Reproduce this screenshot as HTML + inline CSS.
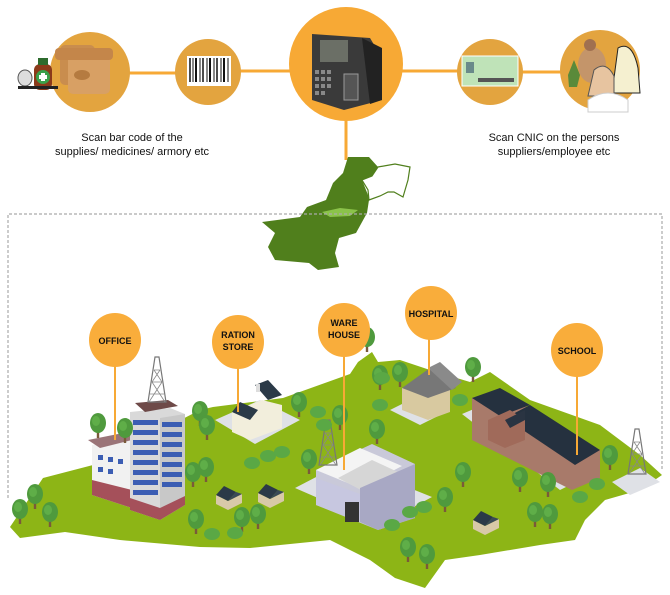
<!DOCTYPE html>
<html><head><meta charset="utf-8"><style>
html,body{margin:0;padding:0;background:#fff;width:670px;height:595px;overflow:hidden}
svg{display:block}
text{font-family:"Liberation Sans",sans-serif}
</style></head><body>
<svg width="670" height="595" viewBox="0 0 670 595" xmlns="http://www.w3.org/2000/svg">
<defs>
<g id="tree"><rect x="-1.2" y="0" width="2.4" height="12" fill="#7a5a3a"/><ellipse cx="0" cy="-3" rx="8" ry="10" fill="#4f9a3d"/><ellipse cx="-2" cy="-5" rx="4" ry="5" fill="#5fae48"/></g>
<g id="bush"><ellipse cx="0" cy="0" rx="8" ry="6" fill="#5aa845"/></g>
<g id="house"><polygon points="-12,4 0,10 14,3 14,-6 0,1 -12,-5" fill="#d8c9a8"/><polygon points="-12,-5 -4,-14 8,-8 0,1" fill="#2b3a48"/><polygon points="0,1 8,-8 14,-6" fill="#3a4a58"/></g>
<g id="tower"><polygon points="-2,-45 2,-45 9,0 -9,0" fill="none" stroke="#777" stroke-width="1.2"/><path d="M-7,-8 L7,-8 M-5,-20 L5,-20 M-3,-32 L3,-32 M-8,0 L5,-20 M8,0 L-5,-20 M-5,-20 L3,-32 M5,-20 L-3,-32" stroke="#888" stroke-width="0.8"/></g>
</defs>

<g stroke="#f7a935" stroke-width="3">
<line x1="128" y1="73" x2="176" y2="73"/><line x1="240" y1="71" x2="292" y2="71"/>
<line x1="400" y1="71" x2="458" y2="71"/><line x1="522" y1="72" x2="562" y2="72"/>
<line x1="346" y1="118" x2="346" y2="160"/>
</g>
<circle cx="90" cy="72" r="40" fill="#e3a43f"/>
<circle cx="208" cy="72" r="33" fill="#e3a43f"/>
<circle cx="346" cy="64" r="57" fill="#f7a935"/>
<circle cx="490" cy="72" r="33" fill="#e3a43f"/>
<circle cx="600" cy="70" r="40" fill="#e3a43f"/>
<rect x="60" y="45" width="35" height="40" rx="5" fill="#c98d4e"/>
<rect x="68" y="52" width="42" height="42" rx="5" fill="#d8a064"/>
<rect x="55" y="48" width="58" height="12" rx="4" fill="#c4864a"/>
<ellipse cx="82" cy="75" rx="8" ry="5" fill="#b57b40"/>
<rect x="34" y="64" width="18" height="26" rx="6" fill="#8b3a1a"/>
<circle cx="43" cy="77" r="7" fill="#3aa04a"/><rect x="41" y="73" width="4" height="8" fill="#fff"/><rect x="39" y="75" width="8" height="4" fill="#fff"/>
<rect x="38" y="58" width="10" height="7" fill="#2d6b2d"/>
<ellipse cx="25" cy="78" rx="7" ry="8" fill="#ddd" stroke="#555"/>
<rect x="18" y="86" width="40" height="3" fill="#222"/>
<rect x="187" y="56" width="44" height="30" fill="#fff"/>
<g stroke="#111">
<line x1="190" y1="58" x2="190" y2="82" stroke-width="1.5"/><line x1="193" y1="58" x2="193" y2="82"/><line x1="196" y1="58" x2="196" y2="82" stroke-width="2"/><line x1="200" y1="58" x2="200" y2="82"/><line x1="203" y1="58" x2="203" y2="82" stroke-width="1.5"/><line x1="207" y1="58" x2="207" y2="82"/><line x1="210" y1="58" x2="210" y2="82" stroke-width="2"/><line x1="214" y1="58" x2="214" y2="82"/><line x1="217" y1="58" x2="217" y2="82" stroke-width="1.5"/><line x1="221" y1="58" x2="221" y2="82"/><line x1="224" y1="58" x2="224" y2="82" stroke-width="2"/><line x1="228" y1="58" x2="228" y2="82"/>
</g>
<polygon points="312,34 370,38 382,58 382,100 344,110 312,100" fill="#3a3a3a"/>
<polygon points="362,38 382,48 382,100 370,104" fill="#222"/>
<rect x="320" y="40" width="28" height="22" fill="#6b6f66"/>
<g fill="#888"><rect x="315" y="70" width="4" height="4"/><rect x="321" y="70" width="4" height="4"/><rect x="327" y="70" width="4" height="4"/><rect x="315" y="77" width="4" height="4"/><rect x="321" y="77" width="4" height="4"/><rect x="327" y="77" width="4" height="4"/><rect x="315" y="84" width="4" height="4"/><rect x="321" y="84" width="4" height="4"/><rect x="327" y="84" width="4" height="4"/><rect x="315" y="91" width="4" height="4"/><rect x="321" y="91" width="4" height="4"/></g>
<rect x="344" y="74" width="14" height="26" fill="#555" stroke="#999"/>
<rect x="462" y="56" width="56" height="30" fill="#bfe3b8" stroke="#fff"/>
<rect x="466" y="62" width="8" height="11" fill="#6a8a8a"/><rect x="478" y="78" width="36" height="4" fill="#555"/>
<ellipse cx="592" cy="65" rx="14" ry="18" fill="#c4956a"/>
<circle cx="590" cy="45" r="6" fill="#a07050"/>
<path d="M618,48 q14,-8 20,20 l2,25 h-28 z" fill="#f5f0d0" stroke="#222"/>
<path d="M594,70 q12,-10 20,6 v20 h-26 z" fill="#e7c4a0" stroke="#555"/>
<path d="M588,100 q20,-14 40,0 v12 h-40 z" fill="#fff" stroke="#ccc"/>
<path d="M568,75 l6,-15 l6,15 l-3,12 h-8z" fill="#5a8a3a"/>

<text x="132" y="141" font-size="11" text-anchor="middle" fill="#111">Scan bar code of the</text>
<text x="132" y="155" font-size="11" text-anchor="middle" fill="#111">supplies/ medicines/ armory etc</text>
<text x="554" y="141" font-size="11" text-anchor="middle" fill="#111">Scan CNIC on the persons</text>
<text x="554" y="155" font-size="11" text-anchor="middle" fill="#111">suppliers/employee etc</text>

<!-- Pakistan map -->
<path d="M348,157 L369,157 L378,167 L372,176 L362,180 L368,195 L369,200 L367,213 L356,233 L339,238 L335,253 L339,267 L318,270 L309,263 L275,260 L268,247 L275,233 L262,222 L300,217 L307,207 L326,200 L333,183 L343,173 Z" fill="#507f1c"/>
<path d="M378,167 L395,164 L410,167 L408,180 L403,197 L394,192 L388,192 L380,196 L369,200 L368,190 L362,180 L372,176 Z" fill="#fff" stroke="#507f1c" stroke-width="1.2"/>
<path d="M322,212 L340,208 L358,210 L350,216 L330,217 Z" fill="#8bc34a"/>

<path d="M8,498 L8,214 L662,214 L662,470" fill="none" stroke="#aaa" stroke-width="1.2" stroke-dasharray="3,2"/>

<path d="M10,527 L43,478 L93,465 L200,410 L213,407 L283,398 L350,374 L358,362 L372,352 L378,362 L400,360 L430,370 L470,382 L490,372 L530,400 L600,425 L640,455 L662,475 L640,490 L605,500 L585,520 L575,540 L540,545 L480,555 L445,560 L425,588 L395,578 L370,560 L330,540 L250,548 L200,547 L120,540 L65,532 L20,538 Z" fill="#8db516"/>

<polygon points="215,420 260,400 300,420 255,444" fill="#dfe1e6"/>
<polygon points="295,488 345,462 432,497 380,525" fill="#dfe1e6"/>
<polygon points="390,410 420,395 450,410 420,425" fill="#dfe1e6"/>
<polygon points="462,414 500,398 600,470 560,490" fill="#dfe1e6"/>
<polygon points="612,482 640,468 660,482 630,495" fill="#dfe1e6"/>

<polygon points="92,445 132,436 132,508 92,495" fill="#f1f1f1"/>
<polygon points="92,480 132,490 132,508 92,495" fill="#a5505a"/>
<polygon points="88,440 128,432 140,438 100,448" fill="#9a7478"/>
<polygon points="130,412 170,408 185,414 185,505 160,520 130,510" fill="#d9d9d9"/>
<polygon points="160,418 185,414 185,505 160,518" fill="#c8c8c8"/>
<g fill="#3b5db3"><rect x="133" y="420" width="25" height="5"/><rect x="133" y="430" width="25" height="5"/><rect x="133" y="440" width="25" height="5"/><rect x="133" y="450" width="25" height="5"/><rect x="133" y="460" width="25" height="5"/><rect x="133" y="470" width="25" height="5"/><rect x="133" y="480" width="25" height="5"/><rect x="133" y="490" width="25" height="5"/>
<rect x="162" y="422" width="20" height="5"/><rect x="162" y="432" width="20" height="5"/><rect x="162" y="442" width="20" height="5"/><rect x="162" y="452" width="20" height="5"/><rect x="162" y="462" width="20" height="5"/><rect x="162" y="472" width="20" height="5"/><rect x="162" y="482" width="20" height="5"/>
<rect x="98" y="455" width="5" height="5"/><rect x="108" y="457" width="5" height="5"/><rect x="118" y="459" width="5" height="5"/><rect x="98" y="467" width="5" height="5"/><rect x="108" y="469" width="5" height="5"/></g>
<polygon points="130,498 160,508 185,496 185,505 160,520 130,510" fill="#a5505a"/>
<polygon points="135,403 168,400 178,406 145,412" fill="#6e4a48"/>
<use href="#tower" x="157" y="402"/>

<polygon points="232,412 250,405 262,400 282,405 282,428 250,440 232,432" fill="#f2eedc"/>
<polygon points="232,412 240,402 258,410 250,420" fill="#2b3a48"/>
<polygon points="255,385 268,380 282,395 268,400" fill="#2b3a48"/>
<rect x="256" y="384" width="4" height="8" fill="#ddd"/>

<polygon points="316,470 372,444 415,464 415,518 378,530 316,505" fill="#c9c9d9"/>
<polygon points="316,470 360,448 402,466 360,488" fill="#f4f4f4"/>
<polygon points="338,478 372,460 415,480 380,500" fill="#d6d6d6"/>
<polygon points="360,488 415,464 415,518 378,530 360,522" fill="#a8a8c4"/>
<polygon points="316,478 360,494 360,522 316,505" fill="#c7c7e0"/>
<rect x="345" y="502" width="14" height="20" fill="#333"/>
<use href="#tower" x="328" y="465"/>

<polygon points="402,388 428,378 450,388 450,412 428,420 402,410" fill="#d8c9a0"/>
<polygon points="402,388 430,368 456,388 428,398" fill="#777"/>
<polygon points="428,368 440,362 462,382 452,390" fill="#8a8a8a"/>

<polygon points="472,398 498,390 600,450 600,478 572,490 472,440" fill="#a87a6a"/>
<polygon points="472,398 500,388 530,405 500,416" fill="#25313f"/>
<polygon points="505,418 530,405 600,450 575,465" fill="#25313f"/>
<polygon points="488,420 510,410 525,420 525,440 505,448 488,440" fill="#a06a5a"/>
<polygon points="505,420 525,410 525,420 510,428" fill="#2a3442"/>
<use href="#tower" x="637" y="474"/>

<use href="#house" x="228" y="500"/>
<use href="#house" x="270" y="498"/>
<use href="#house" x="485" y="525"/>

<g>
<use href="#tree" x="20" y="512"/><use href="#tree" x="35" y="497"/><use href="#tree" x="50" y="515"/>
<use href="#tree" x="98" y="426"/><use href="#tree" x="125" y="431"/>
<use href="#tree" x="193" y="475"/><use href="#tree" x="206" y="470"/>
<use href="#tree" x="200" y="414"/><use href="#tree" x="207" y="428"/>
<use href="#tree" x="299" y="405"/><use href="#tree" x="380" y="378"/><use href="#tree" x="400" y="375"/>
<use href="#tree" x="367" y="340"/><use href="#tree" x="377" y="432"/><use href="#tree" x="309" y="462"/>
<use href="#tree" x="196" y="522"/><use href="#tree" x="242" y="520"/><use href="#tree" x="258" y="517"/>
<use href="#tree" x="445" y="500"/><use href="#tree" x="463" y="475"/><use href="#tree" x="520" y="480"/>
<use href="#tree" x="535" y="515"/><use href="#tree" x="548" y="485"/><use href="#tree" x="550" y="517"/>
<use href="#tree" x="408" y="550"/><use href="#tree" x="427" y="557"/><use href="#tree" x="473" y="370"/>
<use href="#tree" x="610" y="458"/><use href="#tree" x="340" y="418"/>
<use href="#bush" x="252" y="463"/><use href="#bush" x="268" y="456"/><use href="#bush" x="282" y="452"/>
<use href="#bush" x="318" y="412"/><use href="#bush" x="324" y="425"/><use href="#bush" x="380" y="405"/>
<use href="#bush" x="392" y="525"/><use href="#bush" x="410" y="512"/><use href="#bush" x="424" y="507"/>
<use href="#bush" x="212" y="534"/><use href="#bush" x="235" y="533"/><use href="#bush" x="580" y="497"/><use href="#bush" x="597" y="484"/>
<use href="#bush" x="382" y="378"/><use href="#bush" x="460" y="400"/>
</g>

<g stroke="#f7a935" stroke-width="2">
<line x1="115" y1="365" x2="115" y2="440"/><line x1="238" y1="368" x2="238" y2="412"/>
<line x1="344" y1="356" x2="344" y2="470"/><line x1="429" y1="338" x2="429" y2="375"/>
<line x1="577" y1="375" x2="577" y2="455"/>
</g>
<g fill="#f9ad3b">
<ellipse cx="115" cy="340" rx="26" ry="27"/><ellipse cx="238" cy="342" rx="26" ry="27"/>
<ellipse cx="344" cy="330" rx="26" ry="27"/><ellipse cx="431" cy="313" rx="26" ry="27"/>
<ellipse cx="577" cy="350" rx="26" ry="27"/>
</g>
<g font-size="9" font-weight="bold" text-anchor="middle" fill="#111">
<text x="115" y="344">OFFICE</text>
<text x="238" y="338">RATION</text><text x="238" y="350">STORE</text>
<text x="344" y="326">WARE</text><text x="344" y="338">HOUSE</text>
<text x="431" y="317">HOSPITAL</text>
<text x="577" y="354">SCHOOL</text>
</g>
</svg>
</body></html>
